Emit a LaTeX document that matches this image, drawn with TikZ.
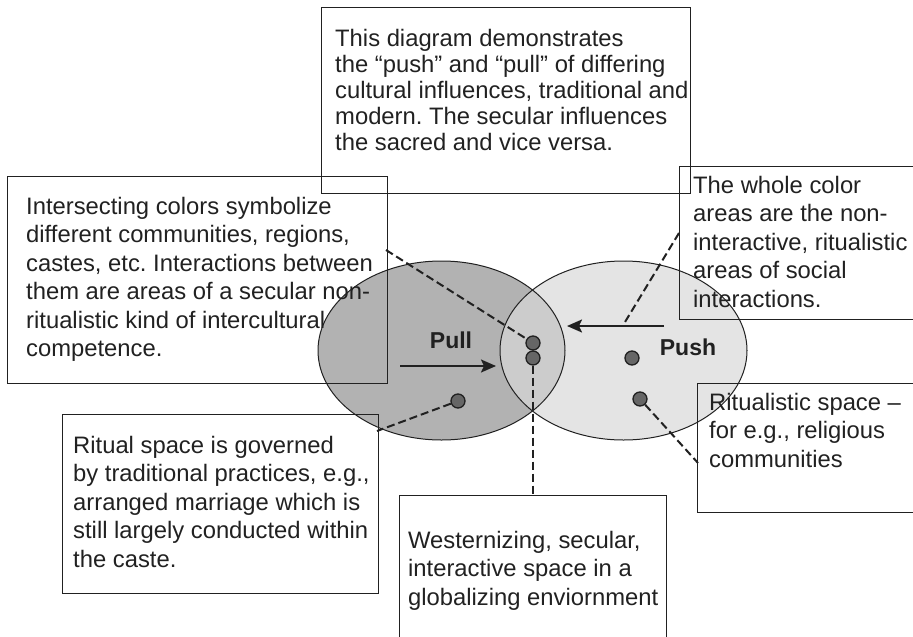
\documentclass[tikz,border=0pt]{standalone}
\usepackage{fontspec}
\setmainfont{Liberation Sans}
\usetikzlibrary{arrows.meta,calc}

\definecolor{ink}{gray}{0.13}
\definecolor{leftfill}{gray}{0.70}
\definecolor{rightfill}{gray}{0.895}
\definecolor{lensfill}{gray}{0.80}
\definecolor{dotfill}{gray}{0.40}

\tikzset{
  frame/.style={draw=ink, line width=1pt, anchor=north west, inner sep=0pt, outer sep=0pt},
  note/.style={anchor=north west, align=left, inner sep=0pt, text=ink,
               font=\fontsize{23.8}{28.5}\selectfont\frenchspacing},
  topnote/.style={note, font=\fontsize{23.8}{26}\selectfont\frenchspacing},
  force/.style={anchor=center, inner sep=0pt, text=ink, font=\fontsize{23}{27}\selectfont\bfseries},
  spot/.style={circle, draw=ink, fill=dotfill, line width=1.3pt, minimum size=14pt, inner sep=0pt},
  leader/.style={draw=ink, line width=2pt, dash pattern=on 8pt off 4pt},
  flow/.style={draw=ink, line width=2pt, -{Stealth[length=15pt,width=13pt,inset=3pt]}},
  rim/.style={draw=ink, line width=1pt}
}

\begin{document}
\begin{tikzpicture}[x=1pt,y=-1pt]
  \useasboundingbox (0,0) rectangle (913,637);
  \clip (0,0) rectangle (913,637);

  % the two overlapping culture areas
  \fill[leftfill]  (441.5,350.5) ellipse [x radius=123.5pt, y radius=89.5pt];
  \fill[rightfill] (623.5,350.5) ellipse [x radius=123.5pt, y radius=89.5pt];
  \begin{scope}
    \clip (441.5,350.5) ellipse [x radius=123.5pt, y radius=89.5pt];
    \fill[lensfill] (623.5,350.5) ellipse [x radius=123.5pt, y radius=89.5pt];
  \end{scope}
  \draw[rim] (441.5,350.5) ellipse [x radius=123.5pt, y radius=89.5pt];
  \draw[rim] (623.5,350.5) ellipse [x radius=123.5pt, y radius=89.5pt];

  % boxes
  \node[frame, minimum width=369pt, minimum height=186pt] (topbox)   at (321,7)   {};
  \node[frame, minimum width=380pt, minimum height=207pt] (leftbox)  at (7,176)   {};
  \node[frame, minimum width=260pt, minimum height=153pt] (wholebox) at (679,166) {};
  \node[frame, minimum width=250pt, minimum height=129pt] (rsbox)    at (697,383) {};
  \node[frame, minimum width=316pt, minimum height=179pt] (ritbox)   at (62,414)  {};
  \node[frame, minimum width=267pt, minimum height=170pt] (westbox)  at (399,495) {};

  % points of interest
  \node[spot] (d1) at (533,343) {};
  \node[spot] (d2) at (533,358) {};
  \node[spot] (d3) at (458,401) {};
  \node[spot] (d4) at (632,358) {};
  \node[spot] (d5) at (640,399) {};

  % pull and push
  \coordinate (pullfrom) at (400,366);
  \coordinate (pullto)   at (496,366);
  \coordinate (pushfrom) at (664,326);
  \coordinate (pushto)   at (567,326);
  \draw[flow] (pullfrom) -- (pullto);
  \draw[flow] (pushfrom) -- (pushto);
  \node[force] (pull) at (451,340) {Pull};
  \node[force] (push) at (688,347) {Push};

  % leader lines
  \coordinate (leftend)  at ($(leftbox.north east)+(-1,74)$);
  \coordinate (wholeend) at ($(wholebox.north west)+(0,67)$);
  \coordinate (pushmark) at (625,322);
  \coordinate (ritend)   at ($(ritbox.north east)+(-1,17)$);
  \coordinate (rsend)    at ($(rsbox.north west)+(1,80)$);
  \draw[leader] (leftend) -- (d1);
  \draw[leader] (wholeend) -- (pushmark);
  \draw[leader] (d3) -- (ritend);
  \draw[leader] (d5) -- (rsend);
  \draw[leader] (d2) -- (d2 |- westbox.north);

  % texts
  \node[topnote] (toptext) at (335,29)
    {This diagram demonstrates\\the “push” and “pull” of differing\\cultural influences, traditional and\\modern. The secular influences\\the sacred and vice versa.};
  \node[note] (lefttext) at (26,197)
    {Intersecting colors symbolize\\different communities, regions,\\castes, etc. Interactions between\\them are areas of a secular non-\\ritualistic kind of intercultural\\competence.};
  \node[note] (wholetext) at (693,176)
    {The whole color\\areas are the non-\\interactive, ritualistic\\areas of social\\interactions.};
  \node[note] (rstext) at (709,393)
    {Ritualistic space –\\for e.g., religious\\communities};
  \node[note] (rittext) at (73,436)
    {Ritual space is governed\\by traditional practices, e.g.,\\arranged marriage which is\\still largely conducted within\\the caste.};
  \node[note] (westtext) at (408,531)
    {Westernizing, secular,\\interactive space in a\\globalizing enviornment};
\end{tikzpicture}
\end{document}
